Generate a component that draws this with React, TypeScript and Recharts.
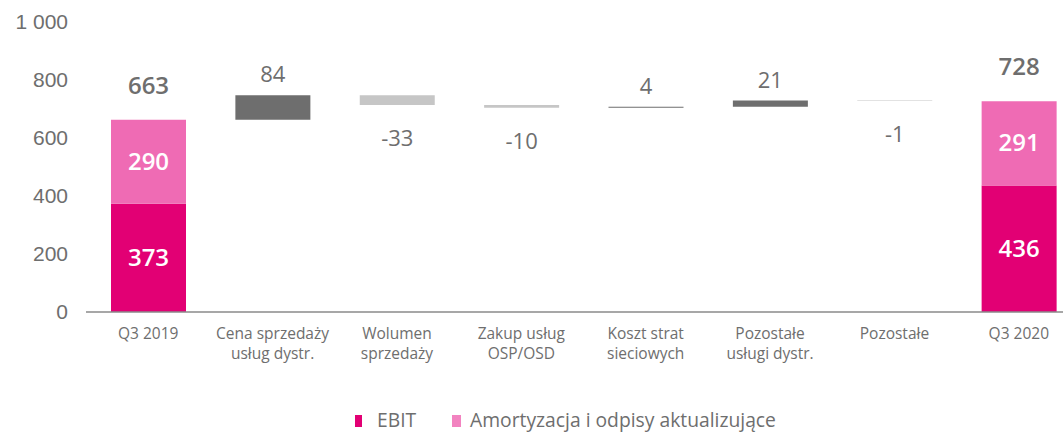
import React from 'react';
import { BarChart, Bar, XAxis, YAxis, LabelList, Legend } from 'recharts';

const categories = [
  'Q3 2019',
  'Cena sprzedaży\nusług dystr.',
  'Wolumen\nsprzedaży',
  'Zakup usług\nOSP/OSD',
  'Koszt strat\nsieciowych',
  'Pozostałe\nusługi dystr.',
  'Pozostałe',
  'Q3 2020',
];
const ebitValues: (number | null)[] = [373, null, null, null, null, null, null, 436];
const amortValues: (number | null)[] = [290, null, null, null, null, null, null, 291];
const changeValues: (number | null)[] = [null, 84, -33, -10, 4, 21, -1, null];
const totalLabels: (number | null)[] = [663, null, null, null, null, null, null, 728];
const yTicks = [0, 200, 400, 600, 800, 1000];

const C_EBIT = '#E20074';
const C_AMORT = '#EF6BB4';
const C_UP = '#6E6E6E';
const C_DOWN = '#C6C6C6';
const C_TEXT = '#6E6E6E';
const FONT = "'Open Sans', sans-serif";

const data = (() => {
  let running = totalLabels[0] as number;
  return categories.map((name, i) => {
    const row: any = { name };
    if (ebitValues[i] != null) {
      row.ebit = ebitValues[i];
      row.amort = amortValues[i];
      row.totalLabel = totalLabels[i];
    }
    const ch = changeValues[i];
    if (ch != null) {
      if (ch >= 0) {
        row.base = running;
        row.up = ch;
        row.upLabel = String(ch);
      } else {
        row.base = running + ch;
        row.down = -ch;
        row.downLabel = String(ch);
      }
      running += ch;
    }
    return row;
  });
})();

const fmt = (v: number) => String(v).replace(/\B(?=(\d{3})+(?!\d))/g, ' ');

const XTick = (props: any) => {
  const { x, y, payload } = props;
  const lines = String(payload.value).split('\n');
  return (
    <text x={x} y={y} textAnchor="middle" fill={C_TEXT} fontFamily={FONT} fontSize={15.5}>
      {lines.map((l, i) => (
        <tspan key={i} x={x} dy={i === 0 ? 19 : 20}>
          {l}
        </tspan>
      ))}
    </text>
  );
};

const InsideLabel = (props: any) => {
  const { x, y, width, height, value } = props;
  if (value == null || !height) return null;
  return (
    <text
      x={x + width / 2}
      y={y + height / 2}
      dy={8}
      textAnchor="middle"
      fill="#FFFFFF"
      fontFamily={FONT}
      fontSize={24}
      fontWeight={600}
    >
      {value}
    </text>
  );
};

const TotalLabel = (props: any) => {
  const { x, y, width, value } = props;
  if (value == null) return null;
  return (
    <text x={x + width / 2} y={y - 26} textAnchor="middle" fill={C_TEXT} fontFamily={FONT} fontSize={24} fontWeight={600}>
      {value}
    </text>
  );
};

const UpLabel = (props: any) => {
  const { x, y, width, value } = props;
  if (value == null) return null;
  return (
    <text x={x + width / 2} y={y - 13} textAnchor="middle" fill={C_TEXT} fontFamily={FONT} fontSize={22}>
      {value}
    </text>
  );
};

const DownLabel = (props: any) => {
  const { x, y, width, height, value } = props;
  if (value == null) return null;
  return (
    <text x={x + width / 2} y={y + (height || 0) + 41} textAnchor="middle" fill={C_TEXT} fontFamily={FONT} fontSize={22}>
      {value}
    </text>
  );
};

const LegendContent = () => (
  <div style={{ position: 'relative', width: 1063, height: 25, fontFamily: FONT, fontSize: 19.3, color: C_TEXT }}>
    <div style={{ position: 'absolute', left: 355, top: 9, width: 7, height: 12, background: C_EBIT }} />
    <div style={{ position: 'absolute', left: 377, top: 3, whiteSpace: 'nowrap', lineHeight: '22px' }}>EBIT</div>
    <div style={{ position: 'absolute', left: 452, top: 9, width: 9, height: 12, background: '#F283C0' }} />
    <div style={{ position: 'absolute', left: 470, top: 3, whiteSpace: 'nowrap', lineHeight: '22px' }}>
      Amortyzacja i odpisy aktualizujące
    </div>
  </div>
);

export default function App() {
  return (
    <div style={{ position: 'absolute', left: 0, top: 0, width: 1063, height: 435, overflow: 'hidden', background: '#fff' }}>
      <BarChart
        width={1090}
        height={445}
        data={data}
        margin={{ top: 22, right: 9, left: 0, bottom: 73 }}
        barSize={75}
      >
        <XAxis
          dataKey="name"
          interval={0}
          tickLine={false}
          axisLine={{ stroke: '#8A8A8A', strokeWidth: 1.5 }}
          tick={<XTick />}
          height={60}
        />
        <YAxis
          type="number"
          domain={[0, 1000]}
          ticks={yTicks}
          width={86}
          axisLine={false}
          tickLine={false}
          tickMargin={12}
          tickFormatter={fmt}
          tick={{ fill: C_TEXT, fontFamily: "'Liberation Sans', Arial, sans-serif", fontSize: 21 }}
        />
        <Legend
          verticalAlign="middle"
          layout="horizontal"
          content={<LegendContent />}
          wrapperStyle={{ position: 'absolute', top: 406, left: 0, width: 1063, height: 25 }}
        />
        <Bar dataKey="base" stackId="a" fill="transparent" isAnimationActive={false} legendType="none" />
        <Bar dataKey="ebit" stackId="a" fill={C_EBIT} isAnimationActive={false}>
          <LabelList dataKey="ebit" content={<InsideLabel />} />
        </Bar>
        <Bar dataKey="amort" stackId="a" fill={C_AMORT} isAnimationActive={false}>
          <LabelList dataKey="amort" content={<InsideLabel />} />
          <LabelList dataKey="totalLabel" content={<TotalLabel />} />
        </Bar>
        <Bar dataKey="up" stackId="a" fill={C_UP} isAnimationActive={false}>
          <LabelList dataKey="upLabel" content={<UpLabel />} />
        </Bar>
        <Bar dataKey="down" stackId="a" fill={C_DOWN} isAnimationActive={false}>
          <LabelList dataKey="downLabel" content={<DownLabel />} />
        </Bar>
      </BarChart>
    </div>
  );
}
